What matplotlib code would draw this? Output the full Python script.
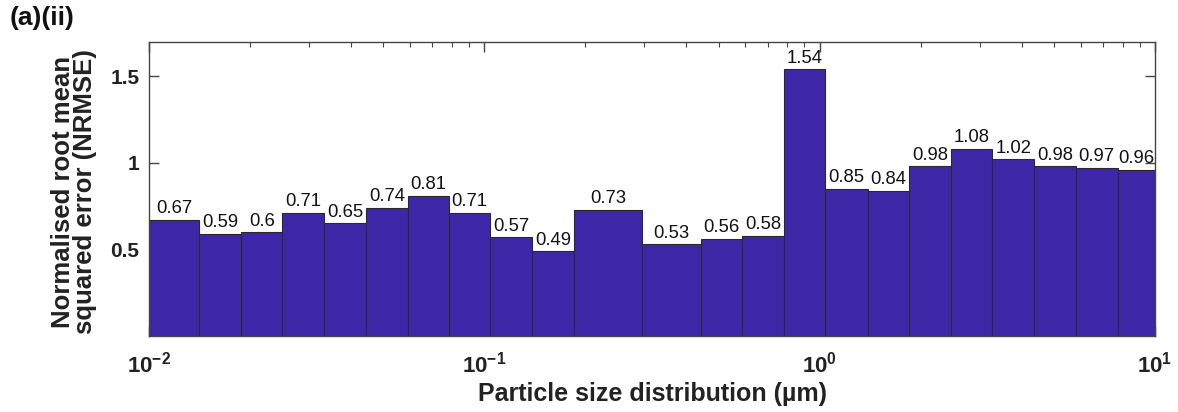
import matplotlib
matplotlib.use("Agg")
import matplotlib.pyplot as plt
import numpy as np
from matplotlib.ticker import LogLocator, NullFormatter

# bin edges (um) and NRMSE per size bin
edges = [0.01, 0.0141, 0.0188, 0.025, 0.0333, 0.0443, 0.0591, 0.0785,
         0.104, 0.139, 0.185, 0.295, 0.442, 0.588, 0.783, 1.04, 1.39,
         1.85, 2.46, 3.27, 4.36, 5.80, 7.73, 10.0]
nrmse = [0.67, 0.59, 0.6, 0.71, 0.65, 0.74, 0.81, 0.71, 0.57, 0.49, 0.73,
         0.53, 0.56, 0.58, 1.54, 0.85, 0.84, 0.98, 1.08, 1.02, 0.98, 0.97, 0.96]
yticks = [0.5, 1, 1.5]

plt.rcParams['font.family'] = ['Liberation Sans', 'DejaVu Sans']
plt.rcParams['axes.unicode_minus'] = False

fig = plt.figure(figsize=(11.78, 4.12), dpi=100)
ax = fig.add_axes([0.1265, 0.1845, 0.8540, 0.7143])

left = np.array(edges[:-1])
right = np.array(edges[1:])
ax.bar(left, nrmse, width=right - left, align='edge',
       color='#3d27a6', edgecolor='#2a2a2a', linewidth=0.8)

ax.set_xscale('log')
ax.set_xlim(0.01, 10)
ax.set_ylim(0, 1.7)
ax.set_yticks(yticks)
ax.set_yticklabels([f"{t:g}" for t in yticks])
ax.xaxis.set_minor_locator(LogLocator(base=10, subs=np.arange(2, 10)))
ax.xaxis.set_minor_formatter(NullFormatter())
ax.set_axisbelow(True)

for lo, hi, v in zip(left, right, nrmse):
    xc = np.sqrt(lo * hi)
    ax.text(xc, v + 0.015, f"{v:g}", ha='center', va='bottom',
            fontsize=13.3, color='#111111')

for s in ax.spines.values():
    s.set_color('#454545')
    s.set_linewidth(1.0)
ax.tick_params(which='both', direction='in', top=True, right=True,
               color='#454545')
ax.tick_params(which='major', length=7, width=1.0)
ax.tick_params(which='minor', length=3.5, width=0.8)
ax.tick_params(axis='y', labelsize=15, pad=7)
ax.tick_params(axis='x', labelsize=16, pad=11)
for lbl in ax.get_xticklabels() + ax.get_yticklabels():
    lbl.set_fontweight('bold')
    lbl.set_color('#222222')

ax.set_xlabel('Particle size distribution (µm)', fontsize=18,
              fontweight='bold', color='#222222')
ax.xaxis.set_label_coords(0.5, -0.155)
ax.set_ylabel('Normalised root mean\nsquared error (NRMSE)', fontsize=18.5,
              fontweight='bold', color='#222222', linespacing=0.9)
ax.yaxis.set_label_coords(-0.052, 0.49)

fig.text(0.008, 0.985, '(a)(ii)', fontsize=19, fontweight='bold',
         ha='left', va='top', color='#111111')

fig.savefig('out.png', dpi=100)
